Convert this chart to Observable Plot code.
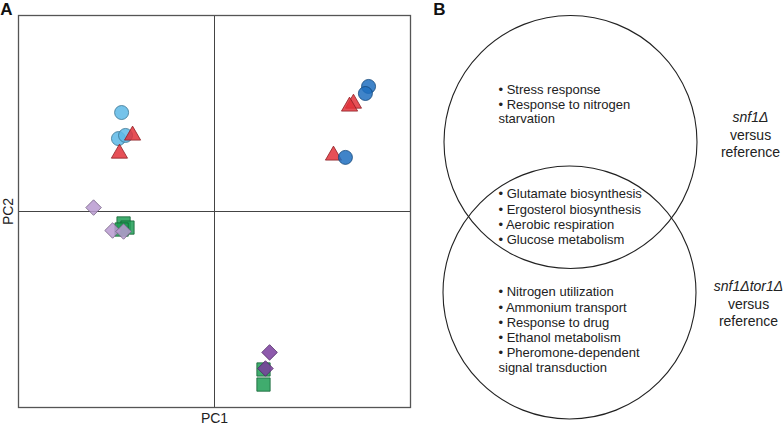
<!DOCTYPE html>
<html><head><meta charset="utf-8">
<script src="https://cdn.jsdelivr.net/npm/d3@7"></script>
<script src="https://cdn.jsdelivr.net/npm/@observablehq/plot@0.6"></script>
<style>
html,body{margin:0;padding:0;background:#fff}
#wrap{width:784px;height:427px;display:flex;font-family:"Liberation Sans",Arial,sans-serif}
#wrap svg{overflow:visible}
</style></head><body><div id="wrap"></div>
<script>
// ---- Panel A data: PCA scores (arbitrary units) ----
const sampleGroup = ["g1","g1","g1","g2","g2","g3","g3","g3","g4","g4","g4","g5","g5","g5","g6","g6","g6","g7","g7","g8","g8"];
const pc1 = [-4.74,-4.90,-4.54, -4.18,-4.85, -6.17,-5.20,-4.64, -4.64,-4.44,-4.74, 7.86,7.70,6.68, 7.09,6.89,6.07, 2.81,2.60, 2.50,2.50];
const pc2 = [ 5.05, 3.72, 3.88,  3.88, 2.96,  0.20,-0.97,-1.02, -0.61,-0.82,-0.92, 6.38,6.02,2.76, 5.51,5.36,2.86, -7.19,-8.01, -8.06,-8.83];
const axisLabels = ["PC1", "PC2"];

// ---- Panel B data: Venn diagram of GO terms ----
const comparisons = ["snf1Δ", "snf1Δtor1Δ"];
const onlyFirst = ["Stress response", "Response to nitrogen\nstarvation"];
const shared = ["Glutamate biosynthesis", "Ergosterol biosynthesis", "Aerobic respiration", "Glucose metabolism"];
const onlySecond = ["Nitrogen utilization", "Ammonium transport", "Response to drug", "Ethanol metabolism", "Pheromone-dependent\nsignal transduction"];

// ---- styles ----
const groupStyle = {
  g1: {symbol: "circle",   fill: "#5DB8E6", r: 7},
  g2: {symbol: "triangle", fill: "#E2313A", r: 6},
  g3: {symbol: "diamond2", fill: "#B99AD0", r: 7},
  g4: {symbol: "square",   fill: "#1E9E55", r: 7.5},
  g5: {symbol: "circle",   fill: "#1E6FBF", r: 7},
  g6: {symbol: "triangle", fill: "#E2313A", r: 6},
  g7: {symbol: "diamond2", fill: "#7A3D9E", r: 7},
  g8: {symbol: "square",   fill: "#1E9E55", r: 7.5}
};
const drawOrder = ["g4","g8","g3","g7","g1","g2","g6","g5"];

const samples = sampleGroup.map((g, i) => ({group: g, pc1: pc1[i], pc2: pc2[i]}));
const font = "Liberation Sans, Arial, Helvetica, sans-serif";

const dotMarks = drawOrder.map(g => {
  const s = groupStyle[g];
  return Plot.dot(samples.filter(d => d.group === g), {
    x: "pc1", y: "pc2", symbol: () => s.symbol, r: s.r,
    fill: s.fill, fillOpacity: 0.85,
    stroke: d3.color(s.fill).darker(1.3).formatHex(), strokeWidth: 0.8
  });
});

const plotA = Plot.plot({
  width: 420, height: 427,
  marginLeft: 18, marginRight: 10, marginTop: 15, marginBottom: 20,
  x: {domain: [-10, 10], axis: null},
  y: {domain: [-10, 10], axis: null},
  symbol: {type: "identity"},
  style: {fontFamily: font, background: "white", color: "#222"},
  marks: [
    Plot.ruleX([0], {stroke: "#444", strokeWidth: 1}),
    Plot.ruleY([0], {stroke: "#444", strokeWidth: 1}),
    Plot.frame({stroke: "#555", strokeWidth: 1.3}),
    ...dotMarks,
    Plot.text([axisLabels[0]], {frameAnchor: "bottom", dy: 11, textAnchor: "middle", lineAnchor: "middle", fontSize: 14, fill: "#222"}),
    Plot.text([axisLabels[1]], {frameAnchor: "left", dx: -10, rotate: -90, textAnchor: "middle", lineAnchor: "middle", fontSize: 14, fill: "#222"}),
    Plot.text(["A"], {frameAnchor: "top-left", dx: -12, dy: -6, textAnchor: "middle", lineAnchor: "middle", fontSize: 17, fontWeight: "bold", fill: "#111"})
  ]
});

// ---- Panel B layout (pixel space) ----
const venn = [
  {name: comparisons[0], cx: 150, cy: 141.5},
  {name: comparisons[1], cx: 149, cy: 292}
];
const bullet = t => "• " + t;
const textBlocks = [
  {text: onlyFirst.map(bullet).join("\n"), x: 78, y: 103.5, lh: 1.12},
  {text: shared.map(bullet).join("\n"), x: 78, y: 216, lh: 1.18},
  {text: onlySecond.map(bullet).join("\n"), x: 78, y: 329, lh: 1.17}
];
const labels = [
  {name: comparisons[0], x: 330, y: 117},
  {name: comparisons[1], x: 328, y: 286}
];

const plotB = Plot.plot({
  width: 364, height: 427,
  marginLeft: 0, marginRight: 0, marginTop: 0, marginBottom: 0,
  x: {domain: [0, 364], range: [0, 364], axis: null},
  y: {domain: [0, 427], range: [0, 427], axis: null},
  style: {fontFamily: font, background: "white", color: "#222"},
  marks: [
    Plot.dot(venn, {x: "cx", y: "cy", r: 126.5, stroke: "#222", strokeWidth: 1.1, fill: "none"}),
    ...textBlocks.map(b => Plot.text([b], {x: "x", y: "y", text: "text", textAnchor: "start", lineAnchor: "middle", lineHeight: b.lh, fontSize: 13, fill: "#222"})),
    Plot.text(labels, {x: "x", y: "y", text: "name", fontStyle: "italic", fontSize: 14, fill: "#222"}),
    Plot.text(labels, {x: "x", y: d => d.y + 25.5, text: () => "versus\nreference", lineHeight: 1.2, fontSize: 14, fill: "#222"}),
    Plot.text(["B"], {x: () => 19, y: () => 9, fontSize: 17, fontWeight: "bold", fill: "#111"})
  ]
});

const wrap = document.getElementById("wrap");
wrap.appendChild(plotA);
wrap.appendChild(plotB);
</script></body></html>
